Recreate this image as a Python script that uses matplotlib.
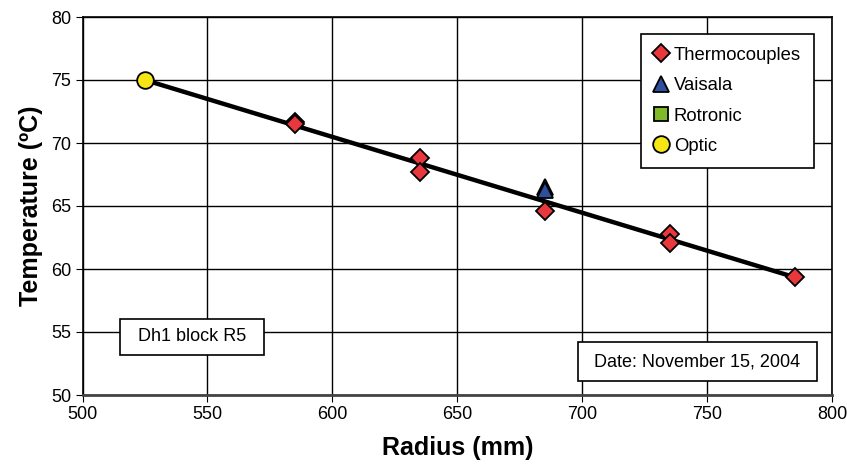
import matplotlib
matplotlib.use("Agg")
import matplotlib.pyplot as plt
from matplotlib.patches import Rectangle

plt.rcParams['font.family'] = ['Liberation Sans', 'DejaVu Sans']

# Data
thermo_x = [585, 585, 635, 635, 685, 735, 735, 785]
thermo_y = [71.7, 71.5, 68.8, 67.7, 64.6, 62.8, 62.1, 59.35]
vaisala_x = [685, 685]
vaisala_y = [66.5, 66.3]
rotronic_x = []
rotronic_y = []
optic_x = [525]
optic_y = [75.0]
fit_x = [525, 785]
fit_y = [75.0, 59.35]

xticks = [500, 550, 600, 650, 700, 750, 800]
yticks = [50, 55, 60, 65, 70, 75, 80]

W, H = 847, 468
L, R, T, B = 82.5, 832, 17, 395

fig = plt.figure(figsize=(W/100, H/100), dpi=100)
ax = fig.add_axes([L/W, 1-B/H, (R-L)/W, (B-T)/H])

ax.plot(fit_x, fit_y, color='black', lw=3.2, zorder=3)
ax.plot(thermo_x, thermo_y, ls='none', marker='D', ms=9, mfc='#e8383d', mec='black', mew=1.3, label='Thermocouples', zorder=4)
ax.plot(vaisala_x, vaisala_y, ls='none', marker='^', ms=11, mfc='#2e4f9e', mec='black', mew=1.3, label='Vaisala', zorder=4)
ax.plot(rotronic_x, rotronic_y, ls='none', marker='s', ms=10, mfc='#7fba2a', mec='black', mew=1.3, label='Rotronic', zorder=4)
ax.plot(optic_x, optic_y, ls='none', marker='o', ms=12, mfc='#f5e614', mec='black', mew=1.3, label='Optic', zorder=5)

ax.set_xlim(500, 800)
ax.set_ylim(50, 80)
ax.set_xticks(xticks)
ax.set_yticks(yticks)
ax.grid(True, color='black', lw=1)
ax.set_axisbelow(True)
for s in ax.spines.values():
    s.set_linewidth(1.2)
ax.spines['bottom'].set_linewidth(2)
ax.spines['bottom'].set_color('#444444')
ax.tick_params(labelsize=13, direction='out', length=5, pad=3)
ax.set_xlabel('Radius (mm)', fontsize=18, fontweight='bold', labelpad=9)
ax.set_ylabel('Temperature (ºC)', fontsize=18, fontweight='bold', labelpad=6)

leg = ax.legend(loc='upper right', bbox_to_anchor=(0.976, 0.955), borderaxespad=0, fontsize=13.3,
                frameon=True, fancybox=False, edgecolor='black', framealpha=1,
                handlelength=0.8, handletextpad=0.3, labelspacing=0.72, borderpad=0.7,
                numpoints=1)
leg.get_frame().set_linewidth(1.2)

# Text boxes
ax.add_patch(Rectangle((0.050, 0.106), 0.192, 0.095, transform=ax.transAxes,
                       fc='white', ec='black', lw=1.2, zorder=6))
ax.text(0.146, 0.1535, 'Dh1 block R5', transform=ax.transAxes, fontsize=13,
        ha='center', va='center', zorder=7)
ax.add_patch(Rectangle((0.661, 0.037), 0.319, 0.102, transform=ax.transAxes,
                       fc='white', ec='black', lw=1.2, zorder=6))
ax.text(0.8205, 0.088, 'Date: November 15, 2004', transform=ax.transAxes, fontsize=13,
        ha='center', va='center', zorder=7)

fig.savefig('out.png', dpi=100)
